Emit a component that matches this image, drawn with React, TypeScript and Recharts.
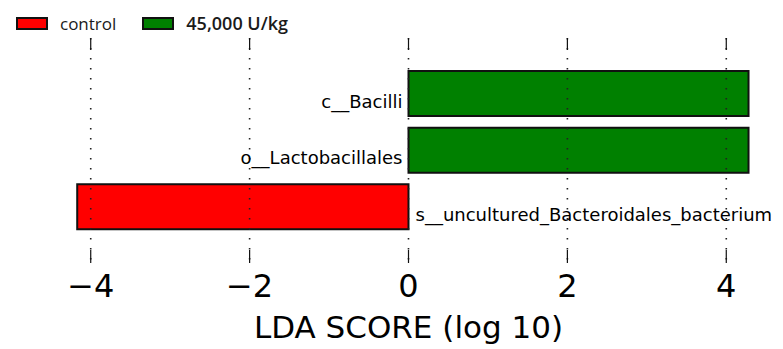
import { Bar, BarChart, Cell, LabelList, ReferenceLine, XAxis, YAxis } from "recharts";

const taxa = ["c__Bacilli", "o__Lactobacillales", "s__uncultured_Bacteroidales_bacterium"];
const ldaScores = [4.28, 4.28, -4.17];
const groups = ["45,000 U/kg", "45,000 U/kg", "control"];
const xTicks = [-4, -2, 0, 2, 4];

const groupColors: Record<string, string> = {
  control: "#ff0000",
  "45,000 U/kg": "#008000",
};

const data = taxa.map((name, i) => ({ name, score: ldaScores[i], group: groups[i] }));

const AXIS_FONT = "'DejaVu Sans', sans-serif";

function BottomTick(props: any) {
  const { x, y, payload } = props;
  const label = String(payload.value).replace("-", "\u2212");
  return (
    <text x={x} y={y + 34} textAnchor="middle" fontSize={32} fontFamily={AXIS_FONT} fill="#000">
      {label}
    </text>
  );
}

// dotted grid line with matplotlib-style inward ticks at both ends
function GridLine(props: any) {
  const { x1, y1, y2 } = props;
  const top = Math.min(y1, y2);
  const bottom = Math.max(y1, y2);
  return (
    <g>
      <line x1={x1} x2={x1} y1={top} y2={bottom} stroke="#222" strokeWidth={1.6} strokeDasharray="1.6 8.4" />
      <line x1={x1} x2={x1} y1={top} y2={top + 12} stroke="#111" strokeWidth={1.2} />
      <line x1={x1} x2={x1} y1={bottom - 13} y2={bottom} stroke="#111" strokeWidth={1.2} />
    </g>
  );
}

function TaxonLabel(props: any) {
  const { x, y, width, height, index } = props;
  const left = Math.min(x, x + width);
  const right = Math.max(x, x + width);
  const positive = ldaScores[index] > 0;
  const zero = positive ? left : right;
  return (
    <text
      x={positive ? zero - 6 : zero + 7}
      y={y + height / 2 + 14}
      textAnchor={positive ? "end" : "start"}
      fontSize={18}
      fontFamily={AXIS_FONT}
      fill="#000"
    >
      {taxa[index]}
    </text>
  );
}

function AxisTitle(props: any) {
  const { viewBox } = props;
  return (
    <text
      x={viewBox.x + viewBox.width / 2}
      y={viewBox.y + 75}
      textAnchor="middle"
      fontSize={31}
      fontFamily={AXIS_FONT}
      fill="#000"
    >
      LDA SCORE (log 10)
    </text>
  );
}

const legendItems = ["control", "45,000 U/kg"];

export default function App() {
  return (
    <div style={{ position: "relative", width: 775, height: 341 }}>
      <div
        style={{
          position: "absolute",
          top: 3,
          left: 8,
          display: "flex",
          alignItems: "center",
          fontFamily: "'Open Sans', sans-serif",
          zIndex: 2,
        }}
      >
        {legendItems.map((g, i) => (
          <div key={g} style={{ display: "flex", alignItems: "center", marginRight: 26 }}>
            <span
              style={{
                display: "inline-block",
                width: 28,
                height: 9,
                background: groupColors[g],
                border: "2px solid #111",
                marginRight: 12,
              }}
            />
            <span style={{ fontSize: i === 0 ? 17 : 18, fontWeight: i === 0 ? 400 : 600, color: "#1a1a1a" }}>{g}</span>
          </div>
        ))}
      </div>
      <BarChart
        width={775}
        height={341}
        data={data}
        layout="vertical"
        margin={{ top: 30, right: 17, bottom: 0, left: 43 }}
        barSize={45}
      >
        <XAxis
          type="number"
          domain={[-4.5, 4.5]}
          ticks={xTicks}
          allowDataOverflow
          axisLine={false}
          tickLine={false}
          tickSize={0}
          tickMargin={0}
          height={86}
          tick={<BottomTick />}
          label={<AxisTitle />}
        />
        <YAxis type="category" dataKey="name" hide padding={{ top: 27, bottom: 28 }} />
        <Bar dataKey="score" isAnimationActive={false} stroke="#111" strokeWidth={2}>
          {data.map((d) => (
            <Cell key={d.name} fill={groupColors[d.group]} />
          ))}
          <LabelList dataKey="name" content={<TaxonLabel />} />
        </Bar>
        {xTicks.map((t) => (
          <ReferenceLine key={t} x={t} shape={<GridLine />} />
        ))}
      </BarChart>
    </div>
  );
}
